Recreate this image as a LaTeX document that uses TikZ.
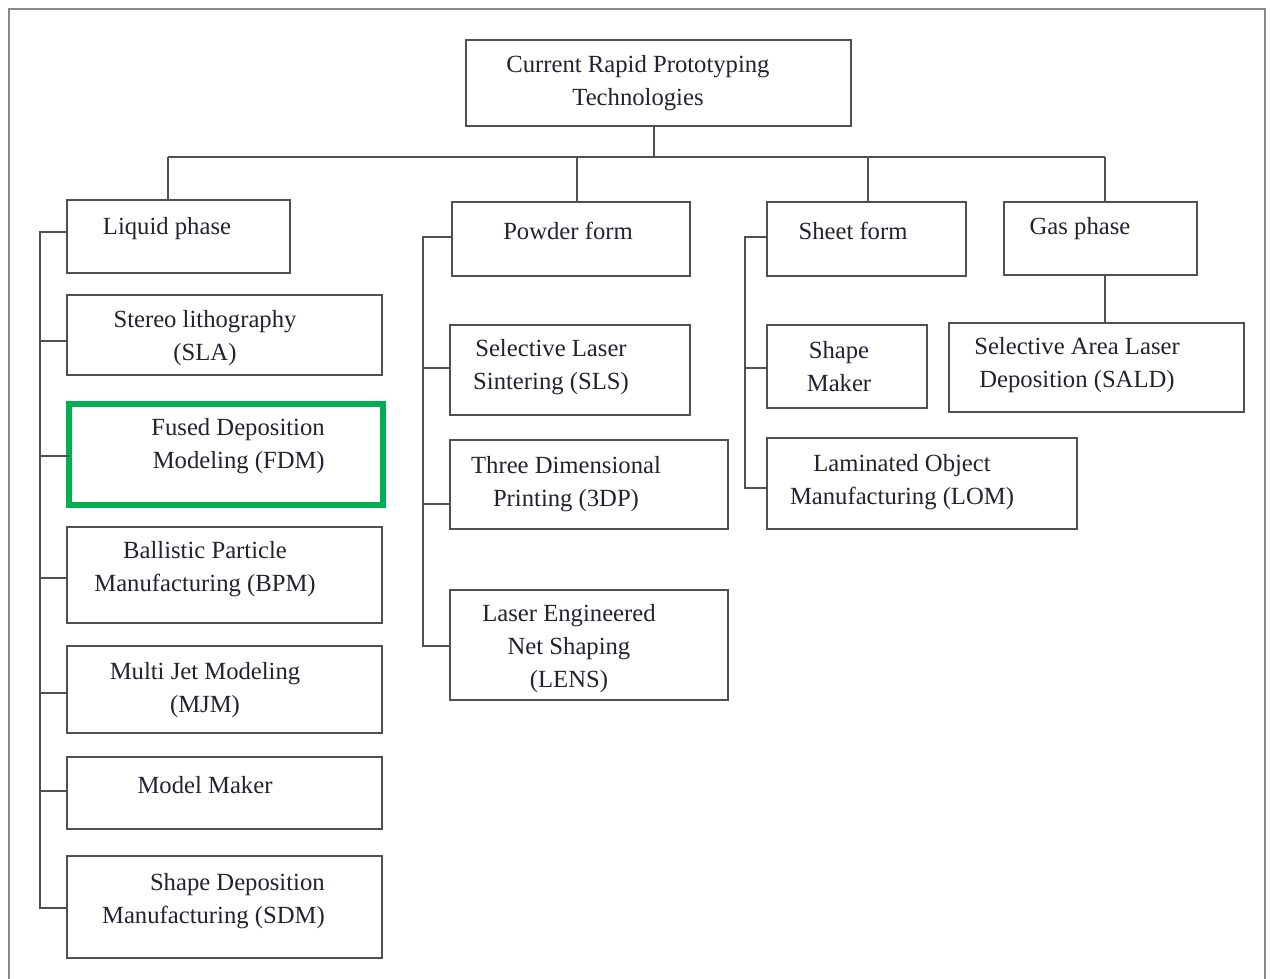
\documentclass[tikz,border=0pt]{standalone}
\usepackage{fontspec}
\setmainfont{Liberation Serif}
\definecolor{linec}{HTML}{505050}
\definecolor{framec}{HTML}{8A8A8A}
\definecolor{txtc}{HTML}{222230}
\definecolor{fdmgreen}{HTML}{00B050}
\newcommand\boxat[6]{\node[#6,minimum width={(#4-#2)*0.75pt},minimum height={(#5-#3)*0.75pt}] (#1) at ({(#2+#4)/2},{(#3+#5)/2}) {};}
\begin{document}
\begin{tikzpicture}[x=0.75pt,y=-0.75pt,
  box/.style={draw=linec,line width=1.5pt,inner sep=0pt,outer sep=0pt,fill=white},
  greenbox/.style={draw=fdmgreen,line width=3.8pt,inner sep=0pt,outer sep=0pt},
  lbl/.style={text=txtc,font=\fontsize{18.5}{24.75}\selectfont,inner sep=0pt,align=center,yshift=-2pt},
  conn/.style={draw=linec,line width=1.5pt}]
\useasboundingbox (0,0) rectangle (1270,978);
% outer frame
\draw[framec,line width=1.8pt] (9,980) -- (9,9) -- (1265,9) -- (1265,980);
% boxes
\boxat{root}{466}{40}{851}{126}{box}
\boxat{liq}{67}{200}{290}{273}{box}
\boxat{pow}{452}{202}{690}{276}{box}
\boxat{sht}{767}{202}{966}{276}{box}
\boxat{gas}{1004}{202}{1197}{275}{box}
\boxat{sla}{67}{295}{382}{375}{box}
\boxat{fdm}{69}{404}{383}{505}{greenbox}
\boxat{bpm}{67}{527}{382}{623}{box}
\boxat{mjm}{67}{646}{382}{733}{box}
\boxat{mm}{67}{757}{382}{829}{box}
\boxat{sdm}{67}{856}{382}{958}{box}
\boxat{sls}{450}{325}{690}{415}{box}
\boxat{tdp}{450}{440}{728}{529}{box}
\boxat{lens}{450}{590}{728}{700}{box}
\boxat{shm}{767}{325}{927}{408}{box}
\boxat{lom}{767}{438}{1077}{529}{box}
\boxat{sald}{949}{323}{1244}{412}{box}
% labels
\node[lbl] (troot) at (638,80) {Current Rapid Prototyping\\Technologies};
\node[lbl] (tliq) at (167,226) {Liquid phase};
\node[lbl] (tpow) at (568,228) {Powder form};
\node[lbl] (tsht) at (853,228) {Sheet form};
\node[lbl] (tgas) at (1080,226) {Gas phase};
\node[lbl] (tsla) at (205,335) {Stereo lithography\\(SLA)};
\node[lbl,align=right,anchor=east] (tfdm) at (325,443) {Fused Deposition\\Modeling (FDM)};
\node[lbl] (tbpm) at (205,566) {Ballistic Particle\\Manufacturing (BPM)};
\node[lbl] (tmjm) at (205,687) {Multi Jet Modeling\\(MJM)};
\node[lbl] (tmm) at (205,782) {Model Maker};
\node[lbl,align=right,anchor=east] (tsdm) at (325,898) {Shape Deposition\\Manufacturing (SDM)};
\node[lbl] (tsls) at (551,364) {Selective Laser\\Sintering (SLS)};
\node[lbl] (ttdp) at (566,481) {Three Dimensional\\Printing (3DP)};
\node[lbl] (tlens) at (569,646) {Laser Engineered\\Net Shaping\\(LENS)};
\node[lbl] (tshm) at (839,364) {Shape\\Maker};
\node[lbl] (tlom) at (902,479) {Laminated Object\\Manufacturing (LOM)};
\node[lbl] (tsald) at (1077,362) {Selective Area Laser\\Deposition (SALD)};
% bus coordinates
\coordinate (rootdrop) at (654,157);
\coordinate (busL) at (168,157);
\coordinate (busP) at (577,157);
\coordinate (busS) at (868,157);
\coordinate (busG) at (1105,157);
\draw[conn] (root.south -| rootdrop) -- (rootdrop);
\draw[conn] (busL) -- (busG);
\draw[conn] (busL) -- (liq.north -| busL);
\draw[conn] (busP) -- (pow.north -| busP);
\draw[conn] (busS) -- (sht.north -| busS);
\draw[conn] (busG) -- (gas.north -| busG);
\draw[conn] (gas.south -| busG) -- (sald.north -| busG);
% liquid trunk
\coordinate (lt) at (40,232);
\coordinate (lb) at (40,908);
\draw[conn] (liq.west |- lt) -- (lt) -- (lb) -- (sdm.west |- lb);
\foreach \n/\yy in {sla/341,fdm/456,bpm/578,mjm/693,mm/791}{
  \draw[conn] (40,\yy) -- (\n.west |- 0,\yy);}
% powder trunk
\coordinate (pt) at (423,237);
\coordinate (pb) at (423,646);
\draw[conn] (pow.west |- pt) -- (pt) -- (pb) -- (lens.west |- pb);
\foreach \n/\yy in {sls/368,tdp/504}{
  \draw[conn] (423,\yy) -- (\n.west |- 0,\yy);}
% sheet trunk
\coordinate (st) at (745,237);
\coordinate (sb) at (745,488);
\draw[conn] (sht.west |- st) -- (st) -- (sb) -- (lom.west |- sb);
\draw[conn] (745,368) -- (shm.west |- 0,368);
\end{tikzpicture}
\end{document}
